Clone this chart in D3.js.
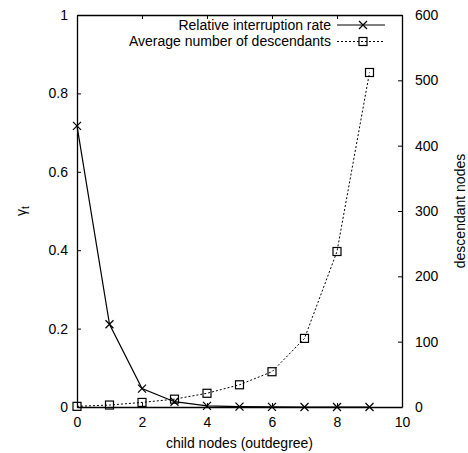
<!DOCTYPE html>
<html>
<head>
<meta charset="utf-8">
<script src="https://cdn.jsdelivr.net/npm/d3@7"></script>
<style>
  body { margin: 0; background: #fff; }
  text { font-family: "Liberation Sans", Arial, sans-serif; font-size: 14px; fill: #000; }
</style>
</head>
<body>
<div id="vis"></div>
<script>
const outdegree = [0, 1, 2, 3, 4, 5, 6, 7, 8, 9];
const interruptionRate = [0.717, 0.211, 0.047, 0.0135, 0.003, 0.0008, 0.0002, 0, 0, 0];
const descendants = [1, 3, 7, 12, 21, 34, 54, 105, 238, 512];
const xTicks = [0, 2, 4, 6, 8, 10];
const yTicks = [0, 0.2, 0.4, 0.6, 0.8, 1];
const y2Ticks = [0, 100, 200, 300, 400, 500, 600];

const width = 468, height = 453;
const margin = { top: 15, right: 66, bottom: 46, left: 77 };

const svg = d3.select("#vis").append("svg")
    .attr("width", width)
    .attr("height", height);

const x = d3.scaleLinear().domain([0, 10]).range([margin.left, width - margin.right]);
const y = d3.scaleLinear().domain([0, 1]).range([height - margin.bottom, margin.top]);
const y2 = d3.scaleLinear().domain([0, 600]).range([height - margin.bottom, margin.top]);

const tick = 4;

// axes: ticks point inward, like gnuplot
const gx = svg.append("g")
    .attr("transform", `translate(0,${y(0)})`)
    .call(d3.axisBottom(x).tickValues(xTicks).tickSizeInner(-tick).tickSizeOuter(0).tickPadding(10));
const gxTop = svg.append("g")
    .attr("transform", `translate(0,${y(1)})`)
    .call(d3.axisTop(x).tickValues(xTicks).tickSizeInner(-tick).tickSizeOuter(0).tickFormat(""));
const gy = svg.append("g")
    .attr("transform", `translate(${x(0)},0)`)
    .call(d3.axisLeft(y).tickValues(yTicks).tickSizeInner(-tick).tickSizeOuter(0).tickPadding(9).tickFormat(d3.format("")));
const gy2 = svg.append("g")
    .attr("transform", `translate(${x(10)},0)`)
    .call(d3.axisRight(y2).tickValues(y2Ticks).tickSizeInner(-tick).tickSizeOuter(0).tickPadding(13));

[gx, gxTop, gy, gy2].forEach(g => {
    g.selectAll("path").attr("stroke", "#000").attr("stroke-width", 1.3);
    g.selectAll("line").attr("stroke", "#000");
    g.selectAll("text").style("font-size", "14px").attr("fill", "#000");
});

// axis labels
svg.append("text")
    .attr("transform", `translate(26,${(y(0) + y(1)) / 2}) rotate(-90)`)
    .attr("text-anchor", "middle")
    .html('γ<tspan dy="3" font-size="10px">t</tspan>');
svg.append("text")
    .attr("transform", `translate(465,${(y(0) + y(1)) / 2}) rotate(-90)`)
    .attr("text-anchor", "middle")
    .text("descendant nodes");
svg.append("text")
    .attr("x", (x(0) + x(10)) / 2)
    .attr("y", 448)
    .attr("text-anchor", "middle")
    .text("child nodes (outdegree)");

// series
const rateData = outdegree.map((d, i) => [d, interruptionRate[i]]);
const descData = outdegree.map((d, i) => [d, descendants[i]]);

const lineRate = d3.line().x(d => x(d[0])).y(d => y(d[1]));
const lineDesc = d3.line().x(d => x(d[0])).y(d => y2(d[1]));

svg.append("path")
    .datum(descData)
    .attr("fill", "none")
    .attr("stroke", "#000")
    .attr("stroke-width", 1)
    .attr("stroke-dasharray", "2,2")
    .attr("d", lineDesc);

svg.append("path")
    .datum(rateData)
    .attr("fill", "none")
    .attr("stroke", "#000")
    .attr("stroke-width", 1.2)
    .attr("d", lineRate);

const s = 4;
function cross(g, cx, cy) {
    g.append("path")
        .attr("d", `M${cx - s},${cy - s}L${cx + s},${cy + s}M${cx - s},${cy + s}L${cx + s},${cy - s}`)
        .attr("stroke", "#000").attr("stroke-width", 1.2).attr("fill", "none");
}
function square(g, cx, cy) {
    g.append("rect")
        .attr("x", cx - s).attr("y", cy - s).attr("width", 2 * s).attr("height", 2 * s)
        .attr("stroke", "#000").attr("stroke-width", 1.2).attr("fill", "none");
}

const marks = svg.append("g");
descData.forEach(d => square(marks, x(d[0]), y2(d[1])));
rateData.forEach(d => cross(marks, x(d[0]), y(d[1])));

// legend
const legend = svg.append("g");
const legendItems = [
    { label: "Relative interruption rate", dash: null, mark: cross, y: 25 },
    { label: "Average number of descendants", dash: "2,2", mark: square, y: 41.5 }
];
legendItems.forEach(it => {
    legend.append("text")
        .attr("x", 331).attr("y", it.y).attr("dy", "0.35em")
        .attr("text-anchor", "end")
        .text(it.label);
    legend.append("line")
        .attr("x1", 337).attr("x2", 385).attr("y1", it.y).attr("y2", it.y)
        .attr("stroke", "#000").attr("stroke-width", 1)
        .attr("stroke-dasharray", it.dash);
    it.mark(legend, 363, it.y);
});
</script>
</body>
</html>
